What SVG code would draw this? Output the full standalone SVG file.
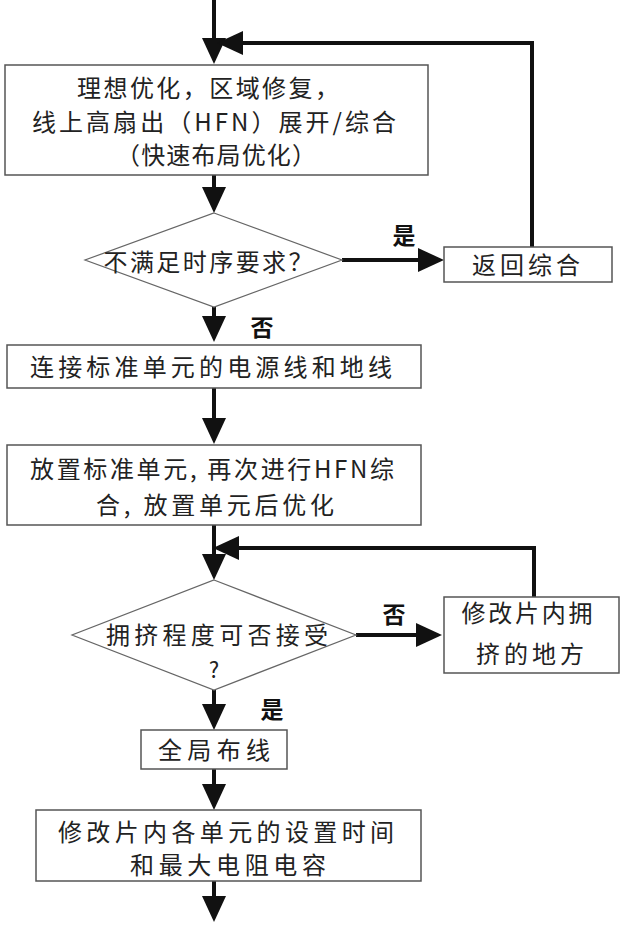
<svg xmlns="http://www.w3.org/2000/svg" width="621" height="930" viewBox="0 0 621 930">
<style>
.box{fill:#fff;stroke:#555;stroke-width:1.5}
.dia{fill:#fff;stroke:#666;stroke-width:1.2}
.t{font-family:"Noto Sans CJK SC","Liberation Serif",serif;font-size:24px;fill:#222;text-anchor:middle;dominant-baseline:central}
.lb{font-family:"Noto Sans CJK SC","Liberation Sans",sans-serif;font-size:23px;font-weight:bold;fill:#111;text-anchor:middle;dominant-baseline:central}
.c{fill:none;stroke:#111;stroke-width:4;marker-end:url(#ah)}
</style>
<defs>
<marker id="ah" viewBox="0 -12 26 24" refX="1" refY="0" markerWidth="26" markerHeight="24" markerUnits="userSpaceOnUse" orient="auto">
<path d="M0,-12 L26,0 L0,12 z" fill="#111"/>
</marker>
</defs>
<g id="connectors">
<path class="c" d="M214,0 V39"/>
<path class="c" d="M532,247 V43 H242"/>
<path class="c" d="M214,175 V188"/>
<path class="c" d="M342,260 H419"/>
<path class="c" d="M214,307 V317"/>
<path class="c" d="M214,388 V419"/>
<path class="c" d="M214,525 V555"/>
<path class="c" d="M534,597 V548 H238"/>
<path class="c" d="M356,635 H417"/>
<path class="c" d="M214,690 V705"/>
<path class="c" d="M214,769 V785"/>
<path class="c" d="M214,881 V897"/>
<text class="lb" x="404" y="234">是</text>
<text class="lb" x="262" y="326">否</text>
<text class="lb" x="394" y="613">否</text>
<text class="lb" x="272" y="708">是</text>
</g>
<g id="n1">
<rect class="box" x="5" y="65" width="423" height="110"/>
<text class="t" x="208" y="86" textLength="262" lengthAdjust="spacing">理想优化，区域修复，</text>
<text class="t" x="214" y="120" textLength="364" lengthAdjust="spacing">线上高扇出（HFN）展开/综合</text>
<text class="t" x="216" y="153" textLength="200" lengthAdjust="spacing">（快速布局优化）</text>
</g>
<g id="d1">
<polygon class="dia" points="214,213 342,260 214,307 85,260"/>
<text class="t" x="208" y="260" textLength="209" lengthAdjust="spacing">不满足时序要求？</text>
</g>
<g id="n_return">
<rect class="box" x="444" y="247" width="168" height="35"/>
<text class="t" x="526" y="263" textLength="108" lengthAdjust="spacing">返回综合</text>
</g>
<g id="n2">
<rect class="box" x="7" y="345" width="414" height="43"/>
<text class="t" x="211" y="365" textLength="362" lengthAdjust="spacing">连接标准单元的电源线和地线</text>
</g>
<g id="n3">
<rect class="box" x="7" y="445" width="414" height="80"/>
<text class="t" x="212" y="467" textLength="364" lengthAdjust="spacing">放置标准单元, 再次进行HFN综</text>
<text class="t" x="215" y="503" textLength="238" lengthAdjust="spacing">合, 放置单元后优化</text>
</g>
<g id="d2">
<polygon class="dia" points="214,580 356,635 214,690 72,635"/>
<text class="t" x="217" y="633" textLength="222" lengthAdjust="spacing">拥挤程度可否接受</text>
<text class="t" x="214" y="668" style="font-size:22px">?</text>
</g>
<g id="n_fix">
<rect class="box" x="444" y="597" width="175" height="76"/>
<text class="t" x="527" y="611" textLength="131" lengthAdjust="spacing">修改片内拥</text>
<text class="t" x="530" y="652" textLength="108" lengthAdjust="spacing">挤的地方</text>
</g>
<g id="n4">
<rect class="box" x="141" y="730" width="146" height="39"/>
<text class="t" x="214" y="748" textLength="112" lengthAdjust="spacing">全局布线</text>
</g>
<g id="n5">
<rect class="box" x="36" y="810" width="385" height="71"/>
<text class="t" x="226" y="830" textLength="336" lengthAdjust="spacing">修改片内各单元的设置时间</text>
<text class="t" x="228" y="863" textLength="196" lengthAdjust="spacing">和最大电阻电容</text>
</g>
</svg>
